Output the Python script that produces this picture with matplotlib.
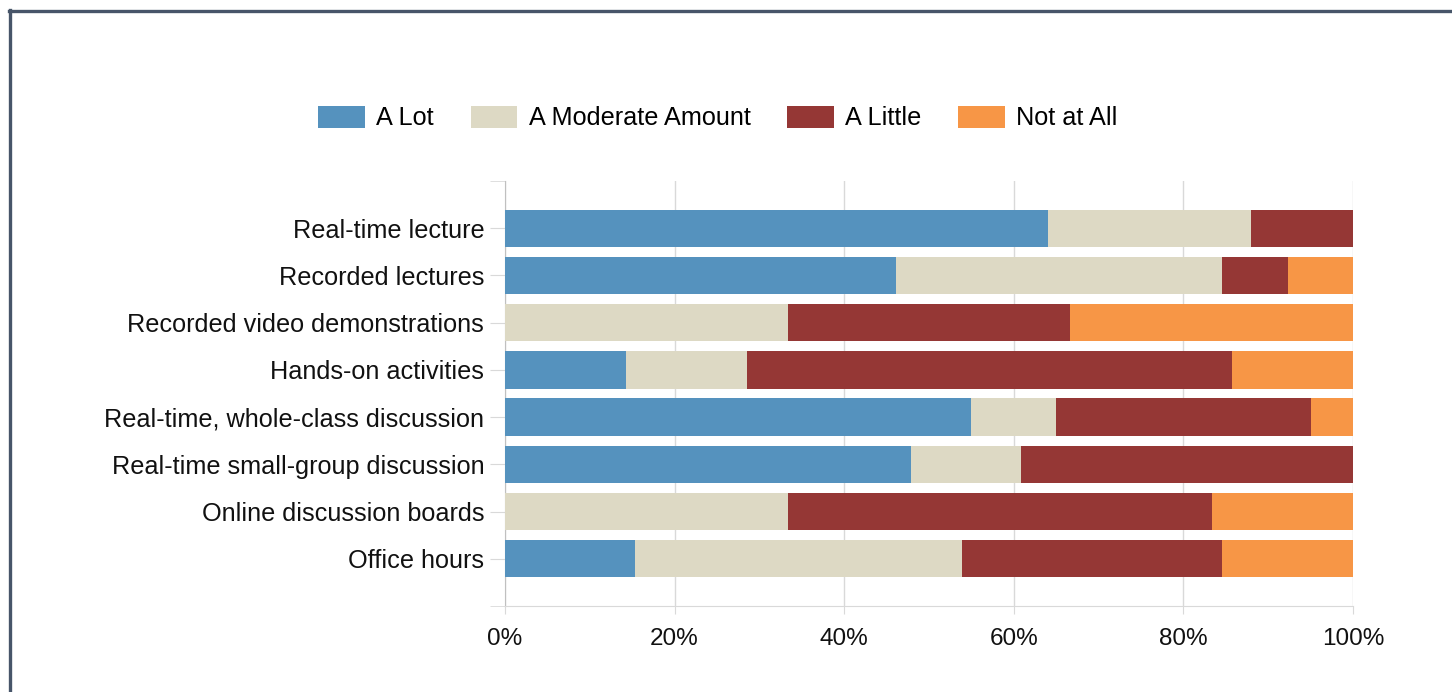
import matplotlib
matplotlib.use('Agg')
from matplotlib import pyplot as plt
from matplotlib.lines import Line2D
from matplotlib.ticker import PercentFormatter

plt.rcParams['font.family'] = ['Liberation Sans', 'DejaVu Sans']

# Survey data (percent of responses)
categories = ['Real-time lecture', 'Recorded lectures', 'Recorded video demonstrations',
              'Hands-on activities', 'Real-time, whole-class discussion',
              'Real-time small-group discussion', 'Online discussion boards', 'Office hours']
a_lot = [64.0, 46.15, 0.0, 14.29, 55.0, 47.83, 0.0, 15.38]
moderate = [24.0, 38.46, 33.33, 14.29, 10.0, 13.04, 33.33, 38.46]
little = [12.0, 7.69, 33.33, 57.14, 30.0, 39.13, 50.0, 30.77]
not_at_all = [0.0, 7.69, 33.33, 14.29, 5.0, 0.0, 16.67, 15.38]

series = [('A Lot', a_lot, '#5592BE'),
          ('A Moderate Amount', moderate, '#DDD9C4'),
          ('A Little', little, '#953735'),
          ('Not at All', not_at_all, '#F79646')]

fig = plt.figure(figsize=(14.52, 6.92), dpi=100)
ax = fig.add_axes([505/1452, 1-606/692, 848/1452, 425/692])

ypos = list(range(len(categories)))
left = [0.0] * len(categories)
for name, vals, color in series:
    ax.barh(ypos, vals, left=left, height=0.79, color=color, label=name, zorder=3)
    left = [l + v for l, v in zip(left, vals)]

ax.set_xlim(0, 100)
ax.set_ylim(len(categories), -1)
ax.set_yticks(ypos)
ax.set_yticklabels(categories, fontsize=18.2, color='#111111')
ax.set_yticks([-1, len(categories)], minor=True)
ax.set_xticks([0, 20, 40, 60, 80, 100])
ax.xaxis.set_major_formatter(PercentFormatter(decimals=0))
ax.tick_params(axis='x', labelsize=17.5, length=6, color='#d9d9d9', pad=10, labelcolor='#111111')
ax.tick_params(axis='y', which='both', length=11, color='#d9d9d9', pad=4)
ax.grid(axis='x', color='#d9d9d9', linewidth=1, zorder=0)

for s in ['top', 'right']:
    ax.spines[s].set_visible(False)
ax.spines['left'].set_color('#c0c0c0')
ax.spines['bottom'].set_color('#d9d9d9')

fig.legend(loc='center', bbox_to_anchor=(718/1452, 1-118/692), ncol=4, frameon=False,
           fontsize=18.2, handlelength=1.85, handleheight=0.95, columnspacing=1.45,
           handletextpad=0.45)

# Frame around the picture (left and top edges visible)
fig.add_artist(Line2D([10/1452, 10/1452], [0, 1-10/692], color='#475569', linewidth=2.4))
fig.add_artist(Line2D([9/1452, 1], [1-11/692, 1-11/692], color='#475569', linewidth=2.4))

plt.savefig('out.png', dpi=100)
